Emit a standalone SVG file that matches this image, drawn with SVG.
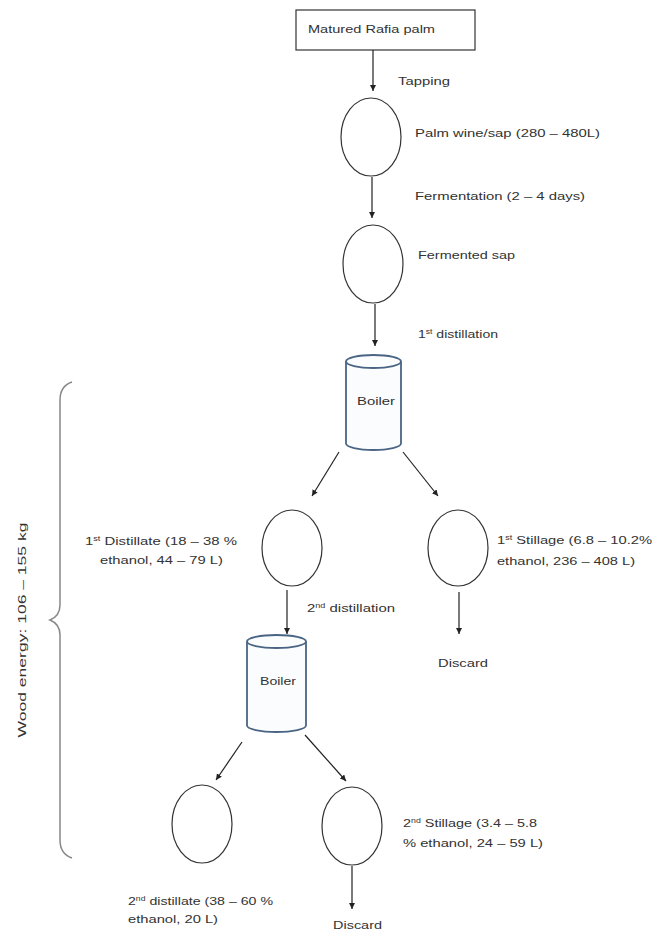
<svg xmlns="http://www.w3.org/2000/svg" width="654" height="932" viewBox="0 0 654 932">
<style>
  text { font-family: "Liberation Sans", Arial, sans-serif; font-size: 11.5px; fill: #333; }
  .node { fill: #fff; stroke: #333; stroke-width: 1.2; }
  .boiler { fill: #fbfcfe; stroke: #4a6584; stroke-width: 1.8; }
  .conn line { stroke: #222; stroke-width: 1.2; marker-end: url(#ah); }
  .sup { font-size: 7px; }
</style>
<defs>
  <marker id="ah" viewBox="0 0 10 10" refX="10" refY="5" markerWidth="6" markerHeight="6" markerUnits="userSpaceOnUse" orient="auto">
    <path d="M0,0 L10,5 L0,10 z" fill="#222"/>
  </marker>
</defs>
<rect width="654" height="932" fill="#fff"/>

<g id="palm">
  <rect x="296" y="10" width="179" height="40" class="node"/>
  <text x="308" y="33" textLength="127" lengthAdjust="spacingAndGlyphs">Matured Rafia palm</text>
</g>
<g id="sap">
  <ellipse cx="371" cy="137" rx="30" ry="39" class="node"/>
  <text x="415" y="137" textLength="185" lengthAdjust="spacingAndGlyphs">Palm wine/sap (280 – 480L)</text>
</g>
<g id="fermented">
  <ellipse cx="373" cy="264" rx="30" ry="39" class="node"/>
  <text x="418" y="259" textLength="97" lengthAdjust="spacingAndGlyphs">Fermented sap</text>
</g>
<g id="boiler1">
  <path class="boiler" d="M346,361.5 L346,443.5 A27.5,6.5 0 0 0 401,443.5 L401,361.5"/>
  <ellipse cx="373.5" cy="361.5" rx="27.5" ry="6.5" class="boiler"/>
  <text x="376" y="405" text-anchor="middle" textLength="38" lengthAdjust="spacingAndGlyphs">Boiler</text>
</g>
<g id="distillate1">
  <ellipse cx="292" cy="548" rx="30" ry="38" class="node"/>
  <text x="85" y="545" textLength="152" lengthAdjust="spacingAndGlyphs">1<tspan class="sup" dy="-4">st</tspan><tspan dy="4"> Distillate (18 – 38 %</tspan></text>
  <text x="100" y="564" textLength="123" lengthAdjust="spacingAndGlyphs">ethanol, 44 – 79 L)</text>
</g>
<g id="stillage1">
  <ellipse cx="458" cy="548" rx="30" ry="38" class="node"/>
  <text x="497" y="544" textLength="155" lengthAdjust="spacingAndGlyphs">1<tspan class="sup" dy="-4">st</tspan><tspan dy="4"> Stillage (6.8 – 10.2%</tspan></text>
  <text x="497" y="565" textLength="138" lengthAdjust="spacingAndGlyphs">ethanol, 236 – 408 L)</text>
</g>
<g id="discard1">
  <text x="438" y="667" textLength="50" lengthAdjust="spacingAndGlyphs">Discard</text>
</g>
<g id="boiler2">
  <path class="boiler" d="M247,641.5 L247,725.5 A29.5,6.5 0 0 0 306,725.5 L306,641.5"/>
  <ellipse cx="276.5" cy="641.5" rx="29.5" ry="6.5" class="boiler"/>
  <text x="278" y="685" text-anchor="middle" textLength="36" lengthAdjust="spacingAndGlyphs">Boiler</text>
</g>
<g id="distillate2">
  <ellipse cx="202" cy="824" rx="30" ry="39" class="node"/>
  <text x="128" y="905" textLength="145" lengthAdjust="spacingAndGlyphs">2<tspan class="sup" dy="-4">nd</tspan><tspan dy="4"> distillate (38 – 60 %</tspan></text>
  <text x="128" y="923" textLength="90" lengthAdjust="spacingAndGlyphs">ethanol, 20 L)</text>
</g>
<g id="stillage2">
  <ellipse cx="352" cy="826" rx="30" ry="39" class="node"/>
  <text x="403" y="827" textLength="134" lengthAdjust="spacingAndGlyphs">2<tspan class="sup" dy="-4">nd</tspan><tspan dy="4"> Stillage (3.4 – 5.8</tspan></text>
  <text x="403" y="847" textLength="140" lengthAdjust="spacingAndGlyphs">% ethanol, 24 – 59 L)</text>
</g>
<g id="discard2">
  <text x="333" y="929" textLength="49" lengthAdjust="spacingAndGlyphs">Discard</text>
</g>
<g id="wood-energy">
  <path d="M72,382 Q60,386 60,400 L60,605 Q60,616 50,620 Q60,624 60,635 L60,840 Q60,854 72,858" fill="none" stroke="#888" stroke-width="1.5"/>
  <text transform="translate(26,630) rotate(-90)" text-anchor="middle" textLength="215" lengthAdjust="spacingAndGlyphs">Wood energy: 106 – 155 kg</text>
</g>

<g id="connectors" class="conn">
  <line x1="373" y1="50" x2="373" y2="91"/>
  <line x1="372" y1="177" x2="372" y2="218"/>
  <line x1="375" y1="304" x2="375" y2="346"/>
  <line x1="339" y1="452" x2="312" y2="496"/>
  <line x1="403" y1="452" x2="438" y2="496"/>
  <line x1="287" y1="590" x2="287" y2="634"/>
  <line x1="459" y1="592" x2="459" y2="634"/>
  <line x1="242" y1="742" x2="216" y2="780"/>
  <line x1="305" y1="735" x2="346" y2="781"/>
  <line x1="352" y1="866" x2="352" y2="909"/>
</g>
<g id="edge-labels">
  <text x="398" y="85" textLength="52" lengthAdjust="spacingAndGlyphs">Tapping</text>
  <text x="415" y="200" textLength="170" lengthAdjust="spacingAndGlyphs">Fermentation (2 – 4 days)</text>
  <text x="418" y="338" textLength="80" lengthAdjust="spacingAndGlyphs">1<tspan class="sup" dy="-4">st</tspan><tspan dy="4"> distillation</tspan></text>
  <text x="307" y="612" textLength="88" lengthAdjust="spacingAndGlyphs">2<tspan class="sup" dy="-4">nd</tspan><tspan dy="4"> distillation</tspan></text>
</g>
</svg>
